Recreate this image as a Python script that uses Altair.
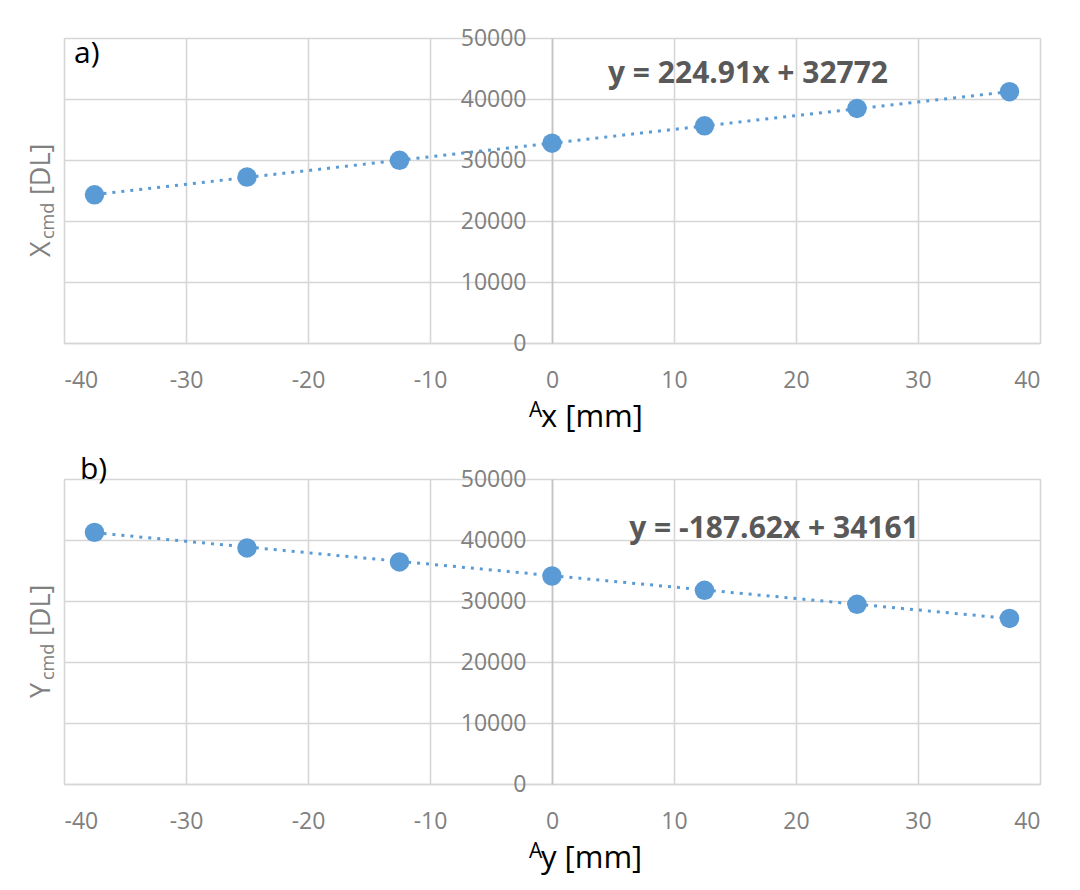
import altair as alt
import pandas as pd

# Stage positions [mm] and the commanded positions [DL] read at each one
pos_mm = [-37.5, -25, -12.5, 0, 12.5, 25, 37.5]
x_cmd = [24300, 27200, 29950, 32750, 35600, 38450, 41200]
y_cmd = [41250, 38700, 36400, 34100, 31750, 29450, 27150]

# Linear trendline coefficients (slope, intercept)
fit_x = (224.91, 32772)
fit_y = (-187.62, 34161)

x_ticks = [-40, -30, -20, -10, 0, 10, 20, 30, 40]
y_ticks = [0, 10000, 20000, 30000, 40000, 50000]

W, H = 976, 305
BLUE = "#5b9bd5"
GRID = "#d6d6d6"
LABEL = "#808080"
EQ = "#595959"
FONT = "Open Sans"

# plain hyphen-minus in tick labels
PLAIN = "'' + datum.value"


def one_row(text):
    return pd.DataFrame({"t": [text]})


def panel(letter, values, fit, axis_letter, cmd_letter, eq_xy, letter_xy):
    slope, intercept = fit
    df = pd.DataFrame({"pos": pos_mm, "cmd": values})

    x_enc = alt.X(
        "pos:Q",
        scale=alt.Scale(domain=[-40, 40], nice=False, zero=False),
        axis=alt.Axis(
            values=x_ticks, title=None, grid=True, gridColor=GRID, gridWidth=1.6,
            domainColor=GRID, domainWidth=1.6, ticks=False, tickSize=0,
            labelPadding=26, labelFontSize=23, labelColor=LABEL, labelFont=FONT,
            labelExpr=PLAIN,
        ),
    )
    y_axis = alt.Axis(
        values=y_ticks, title=None, grid=True, gridColor=GRID, gridWidth=1.6,
        domainColor="#c4c4c4", domainWidth=1.6, ticks=False, tickSize=0,
        labelPadding=26, labelFontSize=23, labelColor=LABEL, labelFont=FONT,
        labelExpr=PLAIN, offset=-W / 2,
    )
    y_scale = alt.Scale(domain=[0, 50000], nice=False, zero=True)

    base = alt.Chart(df)
    trend = base.transform_calculate(
        fit=f"{slope} * datum.pos + {intercept}"
    ).mark_line(color=BLUE, strokeWidth=3, strokeDash=[3, 6]).encode(
        x=x_enc, y=alt.Y("fit:Q", scale=y_scale, axis=y_axis)
    )
    points = base.mark_circle(size=380, color=BLUE, opacity=1).encode(
        x=x_enc, y=alt.Y("cmd:Q", scale=y_scale, axis=y_axis)
    )

    eq_text = f"y = {slope:g}x + {intercept:g}"
    equation = alt.Chart(one_row(eq_text)).mark_text(
        font=FONT, fontSize=30, fontWeight="bold", color=EQ,
        align="center", baseline="middle",
    ).encode(text="t:N", x=alt.value(eq_xy[0]), y=alt.value(eq_xy[1]))

    tag = alt.Chart(one_row(letter)).mark_text(
        font=FONT, fontSize=30, color="black", align="left", baseline="alphabetic",
    ).encode(text="t:N", x=alt.value(letter_xy[0]), y=alt.value(letter_xy[1]))

    # x-axis title with a superscript frame letter
    sup = alt.Chart(one_row("A")).mark_text(
        font=FONT, fontSize=21, color="black", align="left", baseline="alphabetic",
    ).encode(text="t:N", x=alt.value(465), y=alt.value(H + 74))
    xtitle = alt.Chart(one_row(f"{axis_letter} [mm]")).mark_text(
        font=FONT, fontSize=31, color="black", align="left", baseline="alphabetic",
    ).encode(text="t:N", x=alt.value(477), y=alt.value(H + 84))

    # rotated y-axis title with a subscript
    ybig = alt.Chart(one_row(cmd_letter)).mark_text(
        font=FONT, fontSize=27, color=LABEL, align="left", baseline="alphabetic", angle=270,
    ).encode(text="t:N", x=alt.value(-14), y=alt.value(219))
    ysub = alt.Chart(one_row("cmd")).mark_text(
        font=FONT, fontSize=18, color=LABEL, align="left", baseline="alphabetic", angle=270,
    ).encode(text="t:N", x=alt.value(-10), y=alt.value(201))
    yunit = alt.Chart(one_row("[DL]")).mark_text(
        font=FONT, fontSize=27, color=LABEL, align="left", baseline="alphabetic", angle=270,
    ).encode(text="t:N", x=alt.value(-14), y=alt.value(157))

    return alt.layer(
        trend, points, equation, tag, sup, xtitle, ybig, ysub, yunit
    ).properties(width=W, height=H)


top = panel("a)", x_cmd, fit_x, "x", "X", (684, 36), (10, 25))
bottom = panel("b)", y_cmd, fit_y, "y", "Y", (710, 50), (16, 0))

chart = alt.vconcat(top, bottom, spacing=136, bounds="flush").properties(
    padding={"left": 27, "top": 26, "right": 5, "bottom": 5}
).configure_view(stroke=None).configure(font=FONT, background="white")

chart.save("out.html", embed_options={"renderer": "svg", "actions": False})
